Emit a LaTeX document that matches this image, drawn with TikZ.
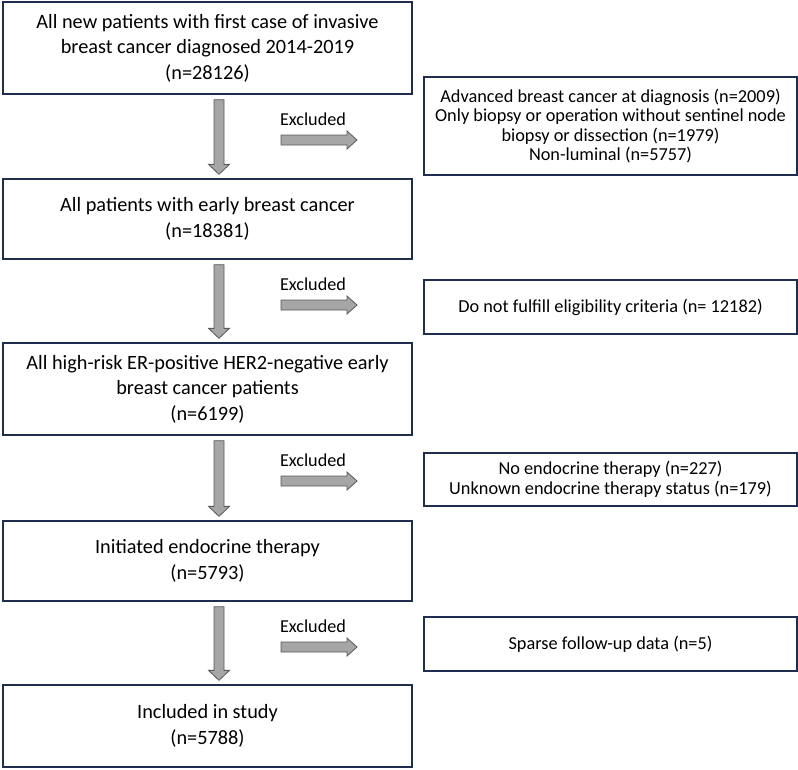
\documentclass[tikz,border=0pt]{standalone}
\usepackage{fontspec}
\setmainfont{Carlito}
\usetikzlibrary{calc}
\definecolor{boxline}{HTML}{1F2D4F}
\definecolor{arrfill}{HTML}{A6A6A6}
\definecolor{arrline}{HTML}{595959}
\newcommand\vblock[2]{%
  \filldraw[blockarrow] let \p1=(#1.south), \p2=(#2.north) in
   (214pt,\y1-5pt) -- (224pt,\y1-5pt) -- (224pt,\y2+14pt) -- (229.5pt,\y2+14pt)
   -- (219pt,\y2+4pt) -- (208.5pt,\y2+14pt) -- (214pt,\y2+14pt) -- cycle;}
\newcommand\hblock[1]{%
  \filldraw[blockarrow] (#1) ++(0,-5) -- ++(66,0) -- ++(0,-4) -- ++(10,9)
   -- ++(-10,9) -- ++(0,-4) -- ++(-66,0) -- cycle;
  \node[exlabel] at ($(#1)+(32,-21)$) {Excluded};}
\begin{document}
\begin{tikzpicture}[x=1pt,y=-1pt,
  mainbox/.style={draw=boxline, line width=1.3pt, minimum width=409pt, inner sep=0pt,
    align=center, font=\fontsize{20.3}{25.5}\selectfont},
  sidebox/.style={draw=boxline, line width=1.3pt, minimum width=373pt, inner sep=0pt,
    align=center, font=\fontsize{18.3}{19.5}\selectfont},
  blockarrow/.style={fill=arrfill, draw=arrline, line width=0.8pt},
  exlabel/.style={font=\fontsize{18.2}{20}\selectfont, inner sep=0pt}]
\useasboundingbox (0,0) rectangle (798,769);
\node[mainbox, minimum height=92pt] (b1) at (207.5,48)
  {All new patients with first case of invasive\\breast cancer diagnosed 2014-2019\\(n=28126)};
\node[mainbox, minimum height=80pt] (b2) at (207.5,219)
  {All patients with early breast cancer\\(n=18381)};
\node[mainbox, minimum height=92pt] (b3) at (207.5,389)
  {All high-risk ER-positive HER2-negative early\\breast cancer patients\\(n=6199)};
\node[mainbox, minimum height=80pt] (b4) at (207.5,561)
  {Initiated endocrine therapy\\(n=5793)};
\node[mainbox, minimum height=82pt] (b5) at (207.5,726)
  {Included in study\\(n=5788)};
\node[sidebox, minimum height=98pt] (r1) at (610.5,126)
  {Advanced breast cancer at diagnosis (n=2009)\\Only biopsy or operation without sentinel node\\biopsy or dissection (n=1979)\\Non-luminal (n=5757)};
\node[sidebox, minimum height=54pt] (r2) at (610.5,307)
  {Do not fulfill eligibility criteria (n= 12182)};
\node[sidebox, minimum height=53pt] (r3) at (610.5,479.5)
  {No endocrine therapy (n=227)\\Unknown endocrine therapy status (n=179)};
\node[sidebox, minimum height=54pt] (r4) at (610.5,644)
  {Sparse follow-up data (n=5)};
\vblock{b1}{b2}
\vblock{b2}{b3}
\vblock{b3}{b4}
\vblock{b4}{b5}
\coordinate (e1) at (281,140);
\coordinate (e2) at (281,305);
\coordinate (e3) at (281,481);
\coordinate (e4) at (281,647);
\hblock{e1}
\hblock{e2}
\hblock{e3}
\hblock{e4}
\end{tikzpicture}
\end{document}
